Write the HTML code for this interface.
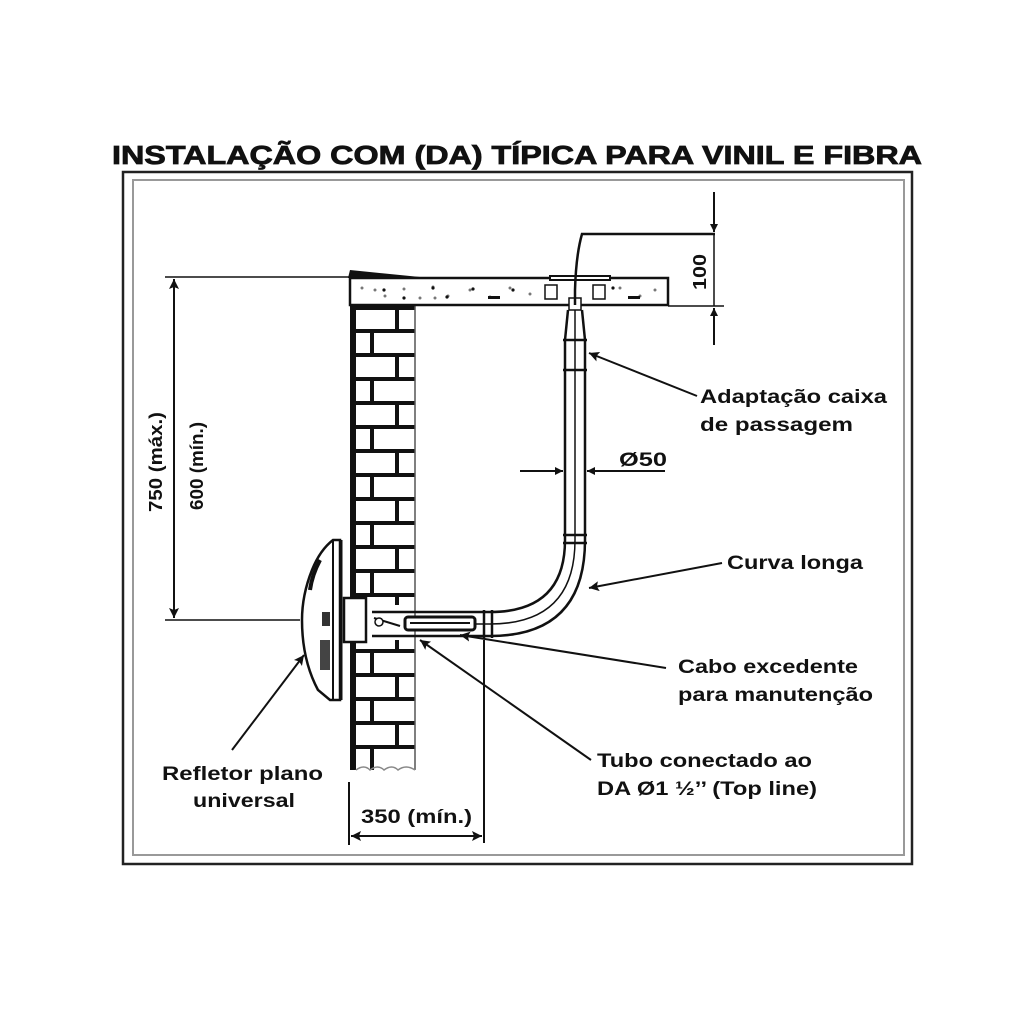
<!DOCTYPE html>
<html><head><meta charset="utf-8"><style>
html,body{margin:0;padding:0;background:#fff;}
svg{display:block;}
text{font-family:"Liberation Sans",Arial,sans-serif;fill:#111;}
</style></head><body>
<svg width="1024" height="1024" viewBox="0 0 1024 1024" xmlns="http://www.w3.org/2000/svg">
<defs>
<marker id="ar" viewBox="0 0 10 10" refX="10" refY="5" markerWidth="10" markerHeight="8" orient="auto-start-reverse" markerUnits="userSpaceOnUse"><path d="M0,0 L10,5 L0,10 z" fill="#111"/></marker>
<marker id="ar2" viewBox="0 0 10 10" refX="10" refY="5" markerWidth="18" markerHeight="10" orient="auto-start-reverse" markerUnits="userSpaceOnUse"><path d="M0,0 L10,5 L0,10 L2,5 z" fill="#111"/></marker>
</defs>
<rect width="1024" height="1024" fill="#fff"/>
<text x="112" y="164" font-size="26" font-weight="bold" textLength="810" lengthAdjust="spacingAndGlyphs" stroke="#111" stroke-width="0.8">INSTALAÇÃO COM (DA) TÍPICA PARA VINIL E FIBRA</text>
<!-- frame -->
<rect x="123" y="172" width="789" height="692" fill="none" stroke="#222" stroke-width="2.5"/>
<rect x="133" y="180" width="771" height="675" fill="none" stroke="#999" stroke-width="2"/>

<!-- brick wall -->
<rect x="352" y="305" width="63" height="465" fill="#fff" stroke="none"/>
<g stroke="#111" stroke-width="4">
<line x1="353" y1="305" x2="353" y2="770" stroke-width="6"/>
<line x1="352" y1="308" x2="415" y2="308"/><line x1="352" y1="331" x2="415" y2="331"/><line x1="352" y1="355" x2="415" y2="355"/><line x1="352" y1="379" x2="415" y2="379"/><line x1="352" y1="403" x2="415" y2="403"/><line x1="352" y1="427" x2="415" y2="427"/><line x1="352" y1="451" x2="415" y2="451"/><line x1="352" y1="475" x2="415" y2="475"/><line x1="352" y1="499" x2="415" y2="499"/><line x1="352" y1="523" x2="415" y2="523"/><line x1="352" y1="547" x2="415" y2="547"/><line x1="352" y1="571" x2="415" y2="571"/><line x1="352" y1="595" x2="415" y2="595"/><line x1="352" y1="651" x2="415" y2="651"/><line x1="352" y1="675" x2="415" y2="675"/><line x1="352" y1="699" x2="415" y2="699"/><line x1="352" y1="723" x2="415" y2="723"/><line x1="352" y1="747" x2="415" y2="747"/>
<line x1="397" y1="308" x2="397" y2="331"/><line x1="372" y1="331" x2="372" y2="355"/><line x1="397" y1="355" x2="397" y2="379"/><line x1="372" y1="379" x2="372" y2="403"/><line x1="397" y1="403" x2="397" y2="427"/><line x1="372" y1="427" x2="372" y2="451"/><line x1="397" y1="451" x2="397" y2="475"/><line x1="372" y1="475" x2="372" y2="499"/><line x1="397" y1="499" x2="397" y2="523"/><line x1="372" y1="523" x2="372" y2="547"/><line x1="397" y1="547" x2="397" y2="571"/><line x1="372" y1="571" x2="372" y2="595"/><line x1="397" y1="595" x2="397" y2="605"/>
<line x1="397" y1="640" x2="397" y2="651"/><line x1="372" y1="651" x2="372" y2="675"/><line x1="397" y1="675" x2="397" y2="699"/><line x1="372" y1="699" x2="372" y2="723"/><line x1="397" y1="723" x2="397" y2="747"/><line x1="372" y1="747" x2="372" y2="770"/>
</g>
<line x1="415" y1="305" x2="415" y2="770" stroke="#555" stroke-width="1.5"/>
<path d="M356,770 q8,-6 14,0 q8,-6 14,0 q8,-6 14,0 q8,-6 17,0" fill="none" stroke="#888" stroke-width="1.5"/>

<!-- slab -->
<rect x="350" y="278" width="318" height="27" fill="#fff" stroke="#111" stroke-width="2.5"/>
<path d="M348,278 L350,270 L430,278 Z" fill="#111"/>
<g fill="#777"><circle cx="362" cy="288" r="1.5"/><circle cx="385" cy="296" r="1.5"/><circle cx="404" cy="289" r="1.5"/><circle cx="420" cy="298" r="1.5"/><circle cx="433" cy="287" r="1.5"/><circle cx="448" cy="296" r="1.5"/><circle cx="470" cy="290" r="1.5"/><circle cx="490" cy="297" r="1.5"/><circle cx="510" cy="288" r="1.5"/><circle cx="530" cy="294" r="1.5"/><circle cx="620" cy="288" r="1.5"/><circle cx="640" cy="296" r="1.5"/><circle cx="655" cy="290" r="1.5"/><circle cx="375" cy="290" r="1.5"/><circle cx="435" cy="298" r="1.5"/></g>
<g fill="#111"><circle cx="384" cy="290" r="1.6"/><circle cx="404" cy="298" r="1.6"/><circle cx="433" cy="288" r="1.6"/><circle cx="447" cy="297" r="1.6"/><circle cx="473" cy="289" r="1.6"/><circle cx="513" cy="290" r="1.6"/><circle cx="613" cy="288" r="1.6"/><rect x="488" y="296" width="12" height="3"/><rect x="628" y="296" width="12" height="3"/></g>
<rect x="550" y="276" width="60" height="4" fill="#fff" stroke="#111" stroke-width="2"/>
<rect x="545" y="285" width="12" height="14" fill="#fff" stroke="#111" stroke-width="1.5"/>
<rect x="593" y="285" width="12" height="14" fill="#fff" stroke="#111" stroke-width="1.5"/>
<rect x="569" y="298" width="12" height="12" fill="#fff" stroke="#111" stroke-width="1.5"/>
<path d="M575,305 L575,290 Q576,255 582,234 L715,234" fill="none" stroke="#111" stroke-width="2.5"/>
<!-- 100 dim -->
<line x1="668" y1="306" x2="724" y2="306" stroke="#111" stroke-width="1.5"/>
<line x1="714" y1="192" x2="714" y2="232" stroke="#111" stroke-width="2" marker-end="url(#ar)"/>
<line x1="714" y1="234" x2="714" y2="306" stroke="#111" stroke-width="1.5"/>
<line x1="714" y1="345" x2="714" y2="308" stroke="#111" stroke-width="2" marker-end="url(#ar)"/>
<text transform="translate(706,272) rotate(-90)" text-anchor="middle" font-size="18" font-weight="bold" textLength="36" lengthAdjust="spacingAndGlyphs">100</text>

<!-- pipe -->
<g fill="none" stroke="#111" stroke-width="2.5">
<path d="M568,310 L565,340 L565,540 Q565,612 490,612 L372,612"/>
<path d="M582,310 L585,340 L585,540 Q585,636 490,636 L372,636"/>
<line x1="575" y1="310" x2="575" y2="540" stroke-width="1.5"/>
<path d="M575,540 Q575,624 490,624 L420,624" stroke-width="1.5"/>
<line x1="563" y1="340" x2="587" y2="340"/>
<line x1="563" y1="370" x2="587" y2="370"/>
<line x1="563" y1="535" x2="587" y2="535"/>
<line x1="563" y1="543" x2="587" y2="543"/>
<line x1="484" y1="610" x2="484" y2="638"/>
<line x1="492" y1="610" x2="492" y2="638"/>
</g>
<rect x="405" y="617" width="70" height="13" rx="3" fill="#fff" stroke="#111" stroke-width="3"/>
<line x1="410" y1="623" x2="470" y2="623" stroke="#111" stroke-width="2"/>
<path d="M374,618 L400,626" stroke="#111" stroke-width="2"/>
<circle cx="379" cy="622" r="4" fill="#fff" stroke="#111" stroke-width="1.5"/>

<!-- fixture -->
<rect x="344" y="598" width="22" height="44" fill="#fff" stroke="#111" stroke-width="2.5"/>
<path d="M340,540 L333,540 Q320,550 312,570 Q302,595 302,620 Q302,660 318,690 L330,700 L340,700 Z" fill="#fff" stroke="#111" stroke-width="2.5"/>
<path d="M333,540 L333,700" stroke="#111" stroke-width="2"/>
<path d="M320,560 Q312,575 310,590" stroke="#111" stroke-width="4" fill="none"/>
<rect x="322" y="612" width="8" height="14" fill="#333"/>
<rect x="320" y="640" width="10" height="30" fill="#444"/>
<line x1="341" y1="540" x2="341" y2="700" stroke="#111" stroke-width="3"/>

<!-- 750/600 dim -->
<line x1="165" y1="277" x2="350" y2="277" stroke="#111" stroke-width="1.5"/>
<line x1="165" y1="620" x2="300" y2="620" stroke="#111" stroke-width="1.5"/>
<line x1="174" y1="279" x2="174" y2="618" stroke="#111" stroke-width="2" marker-start="url(#ar2)" marker-end="url(#ar2)"/>
<text transform="translate(162,462) rotate(-90)" text-anchor="middle" font-size="18" font-weight="bold" textLength="100" lengthAdjust="spacingAndGlyphs">750 (máx.)</text>
<text transform="translate(203,466) rotate(-90)" text-anchor="middle" font-size="18" font-weight="bold" textLength="88" lengthAdjust="spacingAndGlyphs">600 (mín.)</text>

<!-- 350 dim -->
<line x1="349" y1="782" x2="349" y2="845" stroke="#111" stroke-width="2"/>
<line x1="484" y1="640" x2="484" y2="843" stroke="#111" stroke-width="2"/>
<line x1="351" y1="836" x2="482" y2="836" stroke="#111" stroke-width="2" marker-start="url(#ar2)" marker-end="url(#ar2)"/>
<text x="361" y="823" font-size="19" font-weight="bold" textLength="111" lengthAdjust="spacingAndGlyphs">350 (mín.)</text>

<!-- Ø50 dim -->
<line x1="520" y1="471" x2="563" y2="471" stroke="#111" stroke-width="2" marker-end="url(#ar)"/>
<line x1="665" y1="471" x2="587" y2="471" stroke="#111" stroke-width="2" marker-end="url(#ar)"/>
<text x="619" y="466" font-size="19" font-weight="bold" textLength="48" lengthAdjust="spacingAndGlyphs">Ø50</text>

<!-- leaders -->
<g stroke="#111" stroke-width="2" fill="none">
<line x1="697" y1="396" x2="589" y2="353" marker-end="url(#ar2)"/>
<line x1="722" y1="563" x2="589" y2="588" marker-end="url(#ar2)"/>
<line x1="666" y1="668" x2="460" y2="635" marker-end="url(#ar2)"/>
<line x1="591" y1="760" x2="420" y2="640" marker-end="url(#ar2)"/>
<line x1="232" y1="750" x2="304" y2="655" marker-end="url(#ar2)"/>
</g>

<g font-size="19" font-weight="bold">
<text x="700" y="403" textLength="187" lengthAdjust="spacingAndGlyphs">Adaptação caixa</text>
<text x="700" y="431" textLength="153" lengthAdjust="spacingAndGlyphs">de passagem</text>
<text x="727" y="569" textLength="136" lengthAdjust="spacingAndGlyphs">Curva longa</text>
<text x="678" y="673" textLength="180" lengthAdjust="spacingAndGlyphs">Cabo excedente</text>
<text x="678" y="701" textLength="195" lengthAdjust="spacingAndGlyphs">para manutenção</text>
<text x="597" y="767" textLength="215" lengthAdjust="spacingAndGlyphs">Tubo conectado ao</text>
<text x="597" y="795" textLength="220" lengthAdjust="spacingAndGlyphs">DA Ø1 ½’’ (Top line)</text>
<text x="162" y="780" textLength="161" lengthAdjust="spacingAndGlyphs">Refletor plano</text>
<text x="193" y="807" textLength="102" lengthAdjust="spacingAndGlyphs">universal</text>
</g>
</svg>
</body></html>
